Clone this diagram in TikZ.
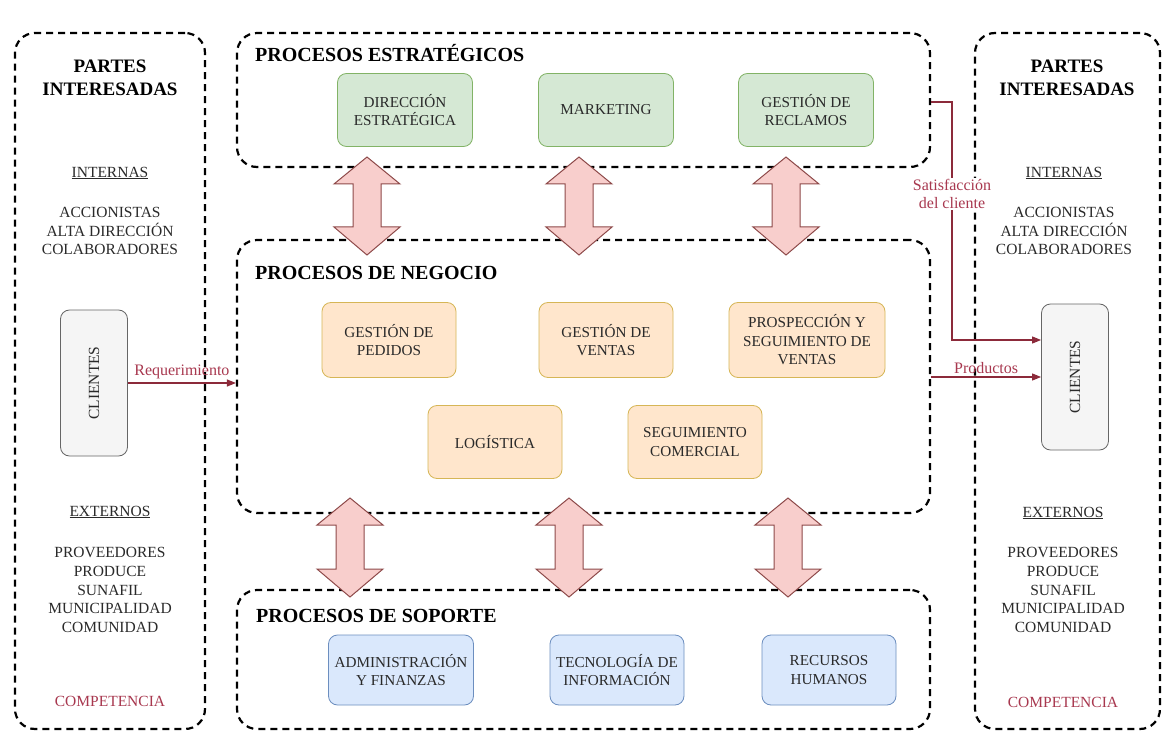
\documentclass[tikz,border=0pt]{standalone}
\usepackage{fontspec}
\setmainfont{Liberation Serif}
\usetikzlibrary{arrows.meta}

\definecolor{greenfill}{HTML}{D5E8D4}
\definecolor{greenline}{HTML}{82B366}
\definecolor{orangefill}{HTML}{FFE6CC}
\definecolor{orangeline}{HTML}{D6B656}
\definecolor{bluefill}{HTML}{DAE8FC}
\definecolor{blueline}{HTML}{6C8EBF}
\definecolor{grayfill}{HTML}{F5F5F5}
\definecolor{grayline}{HTML}{666666}
\definecolor{pinkfill}{HTML}{F8CECC}
\definecolor{pinkline}{HTML}{8E4A4A}
\definecolor{flowline}{HTML}{8C2A3A}
\definecolor{flowtext}{HTML}{A8384F}
\definecolor{inktext}{HTML}{2A2A2A}

\tikzset{
  group/.style={draw=black, line width=2.2pt, dash pattern=on 7pt off 5pt,
    rounded corners=20pt, inner sep=0pt},
  proc/.style={draw, line width=0.8pt, rounded corners=9pt, align=center,
    inner sep=2pt, text=inktext,
    font=\fontsize{15.2}{18.5}\selectfont},
  strat/.style={proc, fill=greenfill, draw=greenline,
    minimum width=135pt, minimum height=73pt},
  biz/.style={proc, fill=orangefill, draw=orangeline,
    minimum width=134pt, minimum height=75pt},
  supp/.style={proc, fill=bluefill, draw=blueline,
    minimum width=135pt, minimum height=70pt},
  client/.style={proc, fill=grayfill, draw=grayline,
    minimum width=67pt, minimum height=146pt},
  grouptitle/.style={anchor=base west, inner sep=0pt,
    font=\fontsize{20}{23}\bfseries\selectfont},
  sidehead/.style={align=center, inner sep=0pt,
    font=\fontsize{19}{23.5}\bfseries\selectfont},
  sidetext/.style={align=center, inner sep=0pt, text=inktext,
    font=\fontsize{15.5}{18.8}\selectfont},
  flow/.style={draw=flowline, line width=1.1pt,
    -{Triangle[length=9pt,width=7pt]}},
  flowlabel/.style={text=flowtext, inner sep=1pt,
    font=\fontsize{16}{18.5}\selectfont},
  blockarrow/.style={fill=pinkfill, draw=pinkline, line width=1pt,
    line join=miter},
}

% vertical two-headed block arrow: #1 = x, #2 = top tip, #3 = bottom tip
\newcommand\twowayarrow[3]{%
  \path[blockarrow]
    (#1,#2) -- ++(33,27) -- ++(-19,0) -- (#1+14,#3-28) -- ++(19,0)
    -- (#1,#3) -- ++(-33,-28) -- ++(19,0) -- (#1-14,#2+27) -- ++(-19,0)
    -- cycle;}

\begin{document}
\begin{tikzpicture}[x=1pt, y=-1pt]
\useasboundingbox (0,0) rectangle (1163,733);
\fill[white] (0,0) rectangle (1163,733);

% ---- containers -------------------------------------------------------
\node[group, minimum width=190pt, minimum height=696pt] (leftparts) at (110,381) {};
\node[group, minimum width=185pt, minimum height=696pt] (rightparts) at (1067.5,381) {};
\node[group, minimum width=693pt, minimum height=134pt] (strategic) at (583.5,100) {};
\node[group, minimum width=693pt, minimum height=273pt] (business) at (583.5,376.5) {};
\node[group, minimum width=693pt, minimum height=139pt] (support) at (583.5,659.5) {};

% ---- block arrows between the process layers --------------------------
\twowayarrow{367}{157}{255}
\twowayarrow{579}{157}{255}
\twowayarrow{786}{157}{255}
\twowayarrow{350}{498}{597}
\twowayarrow{569}{498}{597}
\twowayarrow{788}{498}{597}

% ---- container titles -------------------------------------------------
\node[grouptitle] (strattitle) at (255,62) {PROCESOS ESTRATÉGICOS};
\node[grouptitle] (biztitle) at (255,279) {PROCESOS DE NEGOCIO};
\node[grouptitle] (supptitle) at (256,622) {PROCESOS DE SOPORTE};

% ---- strategic processes ----------------------------------------------
\node[strat] (direccion) at (405,110) {DIRECCIÓN\\ESTRATÉGICA};
\node[strat] (marketing) at (606,110) {MARKETING};
\node[strat] (reclamos) at (806,110) {GESTIÓN DE\\RECLAMOS};

% ---- business processes -----------------------------------------------
\node[biz] (pedidos) at (389,340) {GESTIÓN DE\\PEDIDOS};
\node[biz] (ventas) at (606,340) {GESTIÓN DE\\VENTAS};
\node[biz, minimum width=156pt] (prospeccion) at (807,340)
  {PROSPECCIÓN Y\\SEGUIMIENTO DE\\VENTAS};
\node[biz, minimum height=73pt] (logistica) at (495,442) {LOGÍSTICA};
\node[biz, minimum height=73pt] (comercial) at (695,442) {SEGUIMIENTO\\COMERCIAL};

% ---- support processes ------------------------------------------------
\node[supp, minimum width=145pt] (admin) at (401,670) {ADMINISTRACIÓN\\Y FINANZAS};
\node[supp, minimum width=134pt] (tecnologia) at (617,670) {TECNOLOGÍA DE\\INFORMACIÓN};
\node[supp, minimum width=134pt] (rrhh) at (829,670) {RECURSOS\\HUMANOS};

% ---- stakeholders, left -----------------------------------------------
\node[sidehead] (lefthead) at (110,78) {PARTES\\INTERESADAS};
\node[sidetext] (leftint) at (110,173) {\underline{INTERNAS}};
\node[sidetext] (leftintlist) at (110,231)
  {ACCIONISTAS\\ALTA DIRECCIÓN\\COLABORADORES};
\node[client] (leftclients) at (94,383) {};
\node[sidetext, rotate=90] (leftclientstext) at (leftclients) {CLIENTES};
\node[sidetext] (leftext) at (110,512) {\underline{EXTERNOS}};
\node[sidetext] (leftextlist) at (110,590)
  {PROVEEDORES\\PRODUCE\\SUNAFIL\\MUNICIPALIDAD\\COMUNIDAD};
\node[sidetext, text=flowtext] (leftcomp) at (110,701) {COMPETENCIA};

% ---- stakeholders, right ----------------------------------------------
\node[sidehead] (righthead) at (1067,78) {PARTES\\INTERESADAS};
\node[sidetext] (rightint) at (1064,173) {\underline{INTERNAS}};
\node[sidetext] (rightintlist) at (1064,231)
  {ACCIONISTAS\\ALTA DIRECCIÓN\\COLABORADORES};
\node[client] (rightclients) at (1075,377) {};
\node[sidetext, rotate=90] (rightclientstext) at (rightclients) {CLIENTES};
\node[sidetext] (rightext) at (1063,513) {\underline{EXTERNOS}};
\node[sidetext] (rightextlist) at (1063,590)
  {PROVEEDORES\\PRODUCE\\SUNAFIL\\MUNICIPALIDAD\\COMUNIDAD};
\node[sidetext, text=flowtext] (rightcomp) at (1063,702) {COMPETENCIA};

% ---- flows ------------------------------------------------------------
\draw[flow] (leftclients.east |- 0,383) -- (business.west |- 0,383)
  node[flowlabel, midway, above=3pt] (reqlabel) {Requerimiento};
\draw[flow] (business.east |- 0,377) -- (rightclients.west |- 0,377)
  node[flowlabel, midway, above=2pt] (prodlabel) {Productos};
\coordinate (satbend) at (952,102);
\draw[flow] (strategic.east |- satbend) -- (satbend)
  -- (satbend |- 0,340) -- (rightclients.west |- 0,340);
\node[flowlabel, fill=white, align=center, inner sep=1pt] (satlabel)
  at (952,194) {Satisfacción\\del cliente};
\end{tikzpicture}
\end{document}
